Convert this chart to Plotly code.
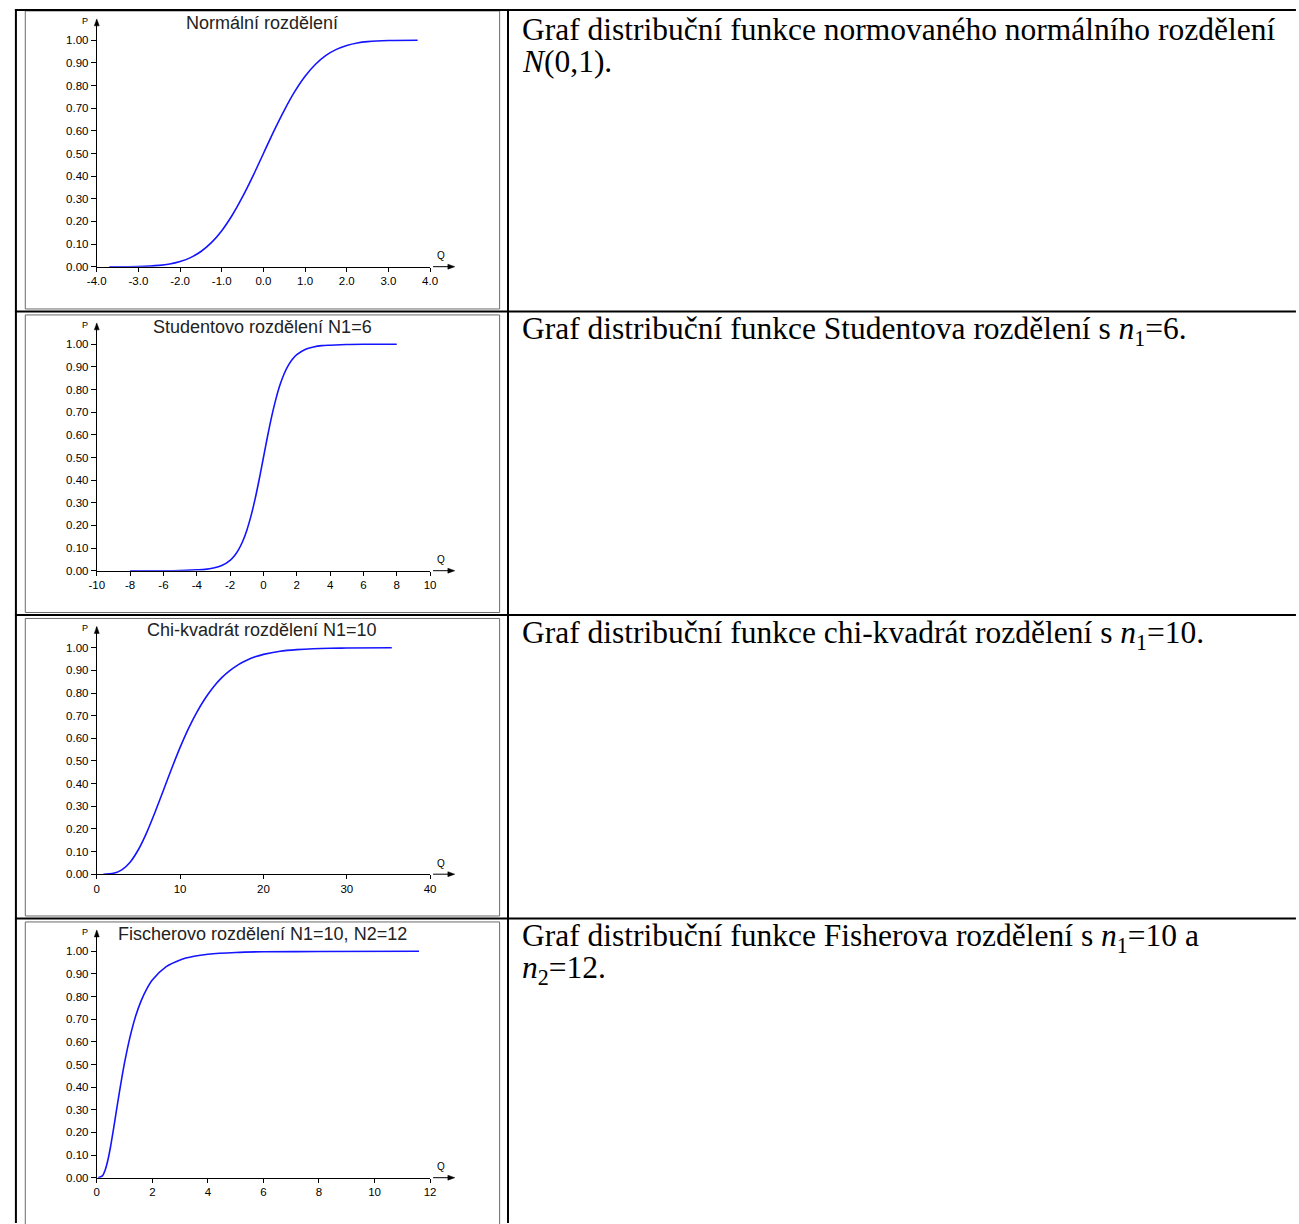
import plotly.graph_objects as go

W, H = 1299, 1224

# ---------------- data ----------------
norm_q = [-3.7, -3.0, -2.5, -2.25, -2.0, -1.75, -1.5, -1.25, -1.0, -0.75, -0.5, -0.25,
          0.0, 0.25, 0.5, 0.75, 1.0, 1.25, 1.5, 1.75, 2.0, 2.25, 2.5, 3.0, 3.7]
norm_p = [0.000, 0.001, 0.006, 0.012, 0.023, 0.040, 0.067, 0.106, 0.159, 0.227, 0.309, 0.401,
          0.500, 0.599, 0.691, 0.773, 0.841, 0.894, 0.933, 0.960, 0.977, 0.988, 0.994, 0.999, 1.000]

stud_q = [-8, -6, -5, -4, -3.5, -3, -2.5, -2, -1.75, -1.5, -1.25, -1, -0.75, -0.5, -0.25,
          0, 0.25, 0.5, 0.75, 1, 1.25, 1.5, 1.75, 2, 2.5, 3, 3.5, 4, 5, 6, 8]
stud_p = [0.000, 0.000, 0.001, 0.004, 0.006, 0.012, 0.023, 0.046, 0.065, 0.092, 0.129, 0.178, 0.241, 0.317, 0.405,
          0.500, 0.595, 0.683, 0.759, 0.822, 0.871, 0.908, 0.935, 0.954, 0.977, 0.988, 0.994, 0.996, 0.999, 1.000, 1.000]

chi_q = [0.8, 2, 3, 4, 5, 6, 7, 8, 9, 10, 11, 12, 13, 14, 15, 16, 17, 18, 19, 20, 22, 24, 26, 28, 30, 35.4]
chi_p = [0.000, 0.004, 0.019, 0.053, 0.109, 0.185, 0.275, 0.371, 0.468, 0.560, 0.643, 0.715, 0.776,
         0.827, 0.868, 0.900, 0.926, 0.945, 0.960, 0.971, 0.985, 0.992, 0.996, 0.998, 0.999, 1.000]

fis_q = [0.05, 0.2, 0.3, 0.4, 0.5, 0.6, 0.7, 0.8, 0.9, 1.0, 1.2, 1.4, 1.6, 1.8, 2.0, 2.5, 3.0, 3.5,
         4.0, 5.0, 6.0, 8.0, 11.6]
fis_p = [0.000, 0.008, 0.033, 0.078, 0.140, 0.213, 0.291, 0.367, 0.440, 0.508, 0.623, 0.714, 0.782,
         0.834, 0.873, 0.932, 0.962, 0.978, 0.987, 0.995, 0.998, 0.999, 1.000]

series_q = [norm_q, stud_q, chi_q, fis_q]
series_p = [norm_p, stud_p, chi_p, fis_p]

titles = ["Normální rozdělení", "Studentovo rozdělení N1=6",
          "Chi-kvadrát rozdělení N1=10", "Fischerovo rozdělení N1=10, N2=12"]

x_ranges = [[-4, 4], [-10, 10], [0, 40], [0, 12]]
x_tickvals = [[-4, -3, -2, -1, 0, 1, 2, 3, 4],
              [-10, -8, -6, -4, -2, 0, 2, 4, 6, 8, 10],
              [0, 10, 20, 30, 40],
              [0, 2, 4, 6, 8, 10, 12]]
x_ticktext = [["-4.0", "-3.0", "-2.0", "-1.0", "0.0", "1.0", "2.0", "3.0", "4.0"],
              ["-10", "-8", "-6", "-4", "-2", "0", "2", "4", "6", "8", "10"],
              ["0", "10", "20", "30", "40"],
              ["0", "2", "4", "6", "8", "10", "12"]]
y_tickvals = [0.0, 0.1, 0.2, 0.3, 0.4, 0.5, 0.6, 0.7, 0.8, 0.9, 1.0]
y_ticktext = ["0.00", "0.10", "0.20", "0.30", "0.40", "0.50", "0.60", "0.70", "0.80", "0.90", "1.00"]

captions = [
    ["Graf distribuční funkce normovaného normálního rozdělení", "<i>N</i>(0,1)."],
    ["Graf distribuční funkce Studentova rozdělení s <i>n</i><sub>1</sub>=6."],
    ["Graf distribuční funkce chi-kvadrát rozdělení s <i>n</i><sub>1</sub>=10."],
    ["Graf distribuční funkce Fisherova rozdělení s <i>n</i><sub>1</sub>=10 a", "<i>n</i><sub>2</sub>=12."],
]

# ---------------- layout geometry (pixels) ----------------
def px(x):
    return x / W

def py(y):
    return 1 - y / H

row_seps = [10, 313, 618, 923]
panel_tops = [11, 316.5, 621.5, 926.5]
panel_bots = [310.5, 615.5, 920.5, 1232]
PANEL_L, PANEL_R = 15.5, 496.5
AX_L, AX_R = 88, 426
TEXT_X = 517

fig = go.Figure()
shapes = []
annotations = []
layout_axes = {}

tick_font = dict(family="Liberation Sans, Arial, sans-serif", size=11.5, color="black")
lab_font = "Liberation Sans, Arial, sans-serif"


def tri(points):
    d = "M " + " L ".join("%.6f,%.6f" % (px(a), py(b)) for a, b in points) + " Z"
    return dict(type="path", xref="paper", yref="paper", path=d,
                fillcolor="black", line=dict(color="black", width=0.5))


for i in range(4):
    top = panel_tops[i]
    y1 = top + 29.5   # P = 1.00
    y0 = top + 257    # P = 0.00
    tip = top + 9     # arrow tip of P axis
    ppu = (y0 - y1)
    r_top = (y0 - tip) / ppu

    sfx = "" if i == 0 else str(i + 1)
    fig.add_trace(go.Scatter(
        x=series_q[i], y=series_p[i], mode="lines",
        line=dict(color="rgb(20,20,255)", width=1.6, shape="spline", smoothing=0.8),
        xaxis="x" + sfx, yaxis="y" + sfx, showlegend=False, hoverinfo="skip"))

    layout_axes["xaxis" + sfx] = dict(
        domain=[px(AX_L), px(AX_R)], range=x_ranges[i], anchor="y" + sfx,
        showline=True, linecolor="black", linewidth=1, mirror=False,
        ticks="outside", ticklen=4, tickcolor="black", tickwidth=1,
        tickmode="array", tickvals=x_tickvals[i], ticktext=x_ticktext[i],
        tickfont=tick_font, showgrid=False, zeroline=False, fixedrange=True)
    layout_axes["yaxis" + sfx] = dict(
        domain=[py(y0), py(tip)], range=[0, r_top], anchor="x" + sfx,
        showline=True, linecolor="black", linewidth=1,
        ticks="outside", ticklen=5, tickcolor="black", tickwidth=1,
        tickmode="array", tickvals=y_tickvals, ticktext=y_ticktext,
        tickfont=tick_font, showgrid=False, zeroline=False, fixedrange=True)

    # panel frame
    shapes.append(dict(type="rect", xref="paper", yref="paper",
                       x0=px(PANEL_L), x1=px(PANEL_R), y0=py(panel_bots[i]), y1=py(top),
                       line=dict(color="#6a6a6a", width=1)))

    # arrows of the axes
    shapes.append(tri([(AX_L, tip - 1), (AX_L - 2.5, tip + 6), (AX_L + 2.5, tip + 6)]))
    shapes.append(dict(type="line", xref="paper", yref="paper",
                       x0=px(429), x1=px(446), y0=py(y0), y1=py(y0),
                       line=dict(color="black", width=1)))
    shapes.append(tri([(451, y0), (444, y0 - 2.5), (444, y0 + 2.5)]))

    # title
    annotations.append(dict(x=px((PANEL_L + PANEL_R) / 2), y=py(top + 12), xref="paper", yref="paper",
                            text=titles[i], showarrow=False, xanchor="center", yanchor="middle",
                            font=dict(family=lab_font, size=18, color="#222")))
    # P and Q labels
    annotations.append(dict(x=px(76), y=py(top + 10), xref="paper", yref="paper", text="P",
                            showarrow=False, xanchor="center", yanchor="middle",
                            font=dict(family=lab_font, size=9, color="black")))
    annotations.append(dict(x=px(437), y=py(y0 - 11), xref="paper", yref="paper", text="Q",
                            showarrow=False, xanchor="center", yanchor="middle",
                            font=dict(family=lab_font, size=10, color="black")))

    # caption text
    for j, line in enumerate(captions[i]):
        annotations.append(dict(x=px(TEXT_X), y=py(row_seps[i] + 20 + 32 * j), xref="paper", yref="paper",
                                text=line, showarrow=False, xanchor="left", yanchor="middle",
                                font=dict(family="Liberation Serif, Times New Roman, serif", size=31.5,
                                          color="black")))

# table borders
def hline(y, x0, x1, w=2):
    return dict(type="line", xref="paper", yref="paper", x0=px(x0), x1=px(x1), y0=py(y), y1=py(y),
                line=dict(color="black", width=w))

def vline(x, y0, y1, w=2):
    return dict(type="line", xref="paper", yref="paper", x0=px(x), x1=px(x), y0=py(y0), y1=py(y1),
                line=dict(color="black", width=w))

for ys in row_seps:
    shapes.append(hline(ys, 5, W + 5))
shapes.append(vline(6, 9, H + 5))
shapes.append(vline(505, 9, H + 5))

fig.update_layout(
    width=W, height=H, margin=dict(l=0, r=0, t=0, b=0),
    paper_bgcolor="white", plot_bgcolor="white",
    shapes=shapes, annotations=annotations, showlegend=False,
    **layout_axes)

fig.write_html("out.html", config={"displayModeBar": False},
               post_script="document.body.style.margin='0';document.body.style.overflow='hidden';")
